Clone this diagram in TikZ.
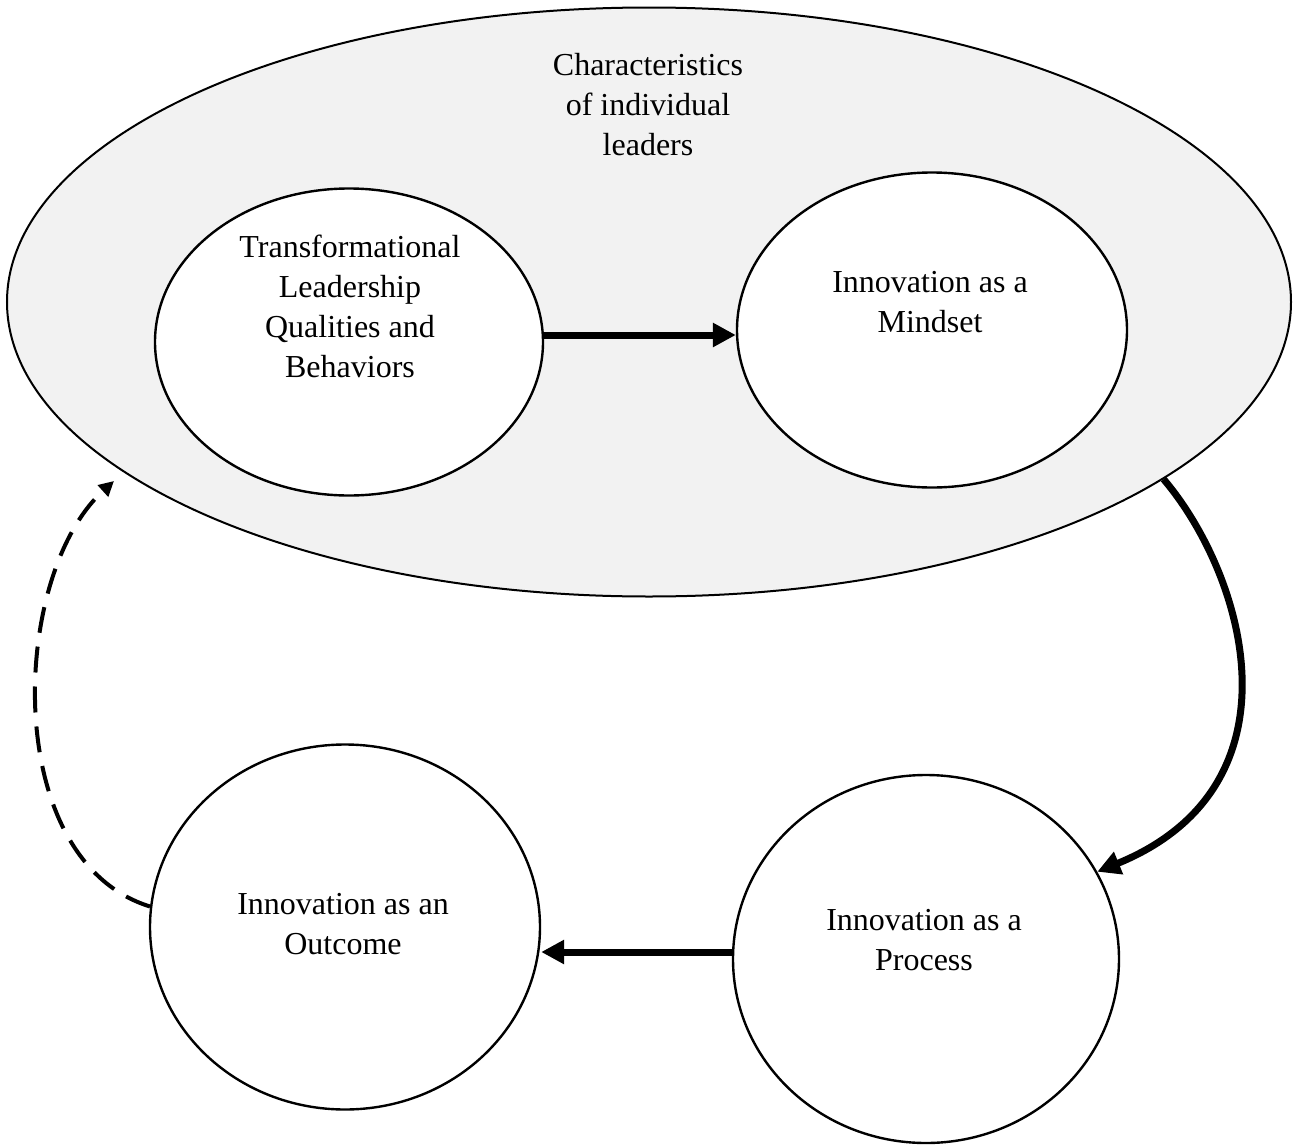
\documentclass[tikz,border=0pt]{standalone}
\usepackage{fontspec}
\setmainfont{Liberation Serif}
\usetikzlibrary{shapes.geometric,arrows.meta}
\definecolor{bggray}{HTML}{F2F2F2}
\begin{document}
\begin{tikzpicture}[x=0.5pt,y=-0.5pt,
  oval/.style={ellipse,draw=black,inner sep=0pt,line width=1.2pt,fill=white},
  txt/.style={align=center,font=\fontsize{16}{20}\selectfont,inner sep=0pt},
  bigarrow/.style={line width=3.5pt,-{Triangle[length=11.5pt,width=11.5pt]}},
  dasharrow/.style={line width=2pt,dash pattern=on 13pt off 7pt,-{Triangle[length=7.5pt,width=7.5pt]}}]
\useasboundingbox (0,0) rectangle (1298,1146);
\node[ellipse,draw=black,line width=1pt,fill=bggray,inner sep=0pt,minimum width=642pt,minimum height=294.5pt] (big) at (649,302) {};
\node[txt] (chartxt) at (648,105) {Characteristics\\of individual\\leaders};
\node[oval,minimum width=194pt,minimum height=153.5pt] (TL) at (349,342) {};
\node[txt] (TLtxt) at (350,306) {Transformational\\Leadership\\Qualities and\\Behaviors};
\node[oval,minimum width=195pt,minimum height=157.5pt] (MS) at (932,330) {};
\node[txt] (MStxt) at (930,302) {Innovation as a\\Mindset};
\node[oval,minimum width=195pt,minimum height=182.5pt] (OC) at (345,927) {};
\node[txt] (OCtxt) at (343,924) {Innovation as an\\Outcome};
\node[oval,minimum width=193pt,minimum height=184pt] (PR) at (926,959) {};
\node[txt] (PRtxt) at (924,940) {Innovation as a\\Process};
\coordinate (dashend) at (114,481);
\draw[bigarrow] ([yshift=3.5pt]TL.east) -- ([yshift=3.5pt]TL.east -| MS.west);
\draw[bigarrow] ([yshift=3.5pt]PR.west) -- ([yshift=3.5pt]PR.west -| OC.east);
\draw[bigarrow] (big.-19.4) .. controls (1245,575) and (1307,786) .. (PR.27.7);
\draw[dasharrow] (OC.174.3) .. controls (0,860) and (10,575) .. (dashend);
\end{tikzpicture}
\end{document}
